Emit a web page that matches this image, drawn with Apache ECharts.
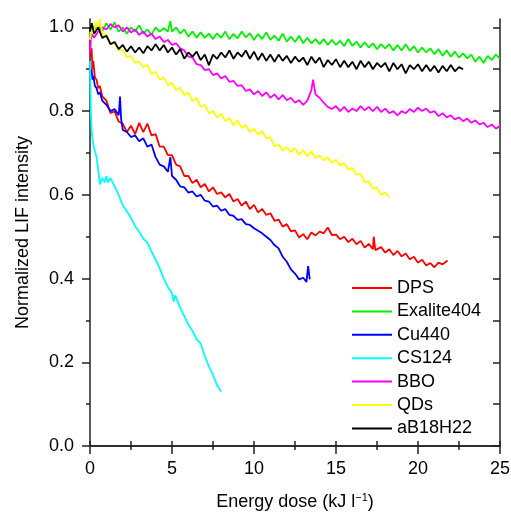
<!DOCTYPE html>
<html><head><meta charset="utf-8">
<script src="https://cdn.jsdelivr.net/npm/echarts@6/dist/echarts.min.js"></script>
<style>html,body{margin:0;padding:0;background:#fff}#c{width:511px;height:512px}</style>
</head><body><div id="c"></div>
<script>
const seriesNames = ['DPS','Exalite404','Cu440','CS124','BBO','QDs','aB18H22'];
const seriesColors = ['#ff0000','#00f000','#0000ff','#00ffff','#ff00ff','#ffff00','#000000'];
const xTicks = [0,5,10,15,20,25];
const yMajorTicks = [0,0.2,0.4,0.6,0.8,1.0];
const yMinorTicks = [0.1,0.3,0.5,0.7,0.9];
const yRightTicks = [0,0.1,0.2,0.3,0.4,0.5,0.6,0.7,0.8,0.9,1.0];

const dps = [[0,.97],[.05,.93],[.1,.95],[.15,.90],[.2,.92],[.3,.88],[.4,.875],[.5,.855],[.6,.86],[.75,.835],[1,.825],[1.25,.795],[1.5,.80],[1.75,.775],[2,.77],[2.25,.75],[2.5,.765],[2.75,.745],[3,.772],[3.25,.75],[3.5,.77],[3.75,.742],[4,.745],[4.25,.715],[4.5,.715],[4.75,.695],[5,.695],[5.25,.672],[5.5,.668],[5.75,.645],[6,.645],[6.25,.628],[6.5,.636],[6.75,.618],[7,.626],[7.25,.608],[7.5,.618],[7.75,.602],[8,.606],[8.25,.594],[8.5,.602],[8.75,.584],[9,.59],[9.25,.574],[9.5,.584],[9.75,.566],[10,.576],[10.25,.558],[10.5,.566],[10.75,.552],[11,.556],[11.25,.538],[11.5,.541],[11.75,.524],[12,.53],[12.25,.513],[12.5,.515],[12.75,.498],[13,.506],[13.25,.494],[13.5,.51],[13.75,.503],[14,.512],[14.25,.508],[14.5,.522],[14.75,.504],[15,.505],[15.25,.494],[15.5,.50],[15.75,.487],[16,.495],[16.25,.482],[16.5,.49],[16.75,.474],[17,.483],[17.25,.47],[17.3,.50],[17.4,.468],[17.75,.475],[18,.462],[18.25,.47],[18.5,.456],[18.75,.466],[19,.453],[19.25,.46],[19.5,.446],[19.75,.452],[20,.438],[20.25,.445],[20.5,.431],[20.75,.437],[21,.427],[21.25,.438],[21.5,.434],[21.8,.443]];
const exalite = [[0,.98],[.1,1.01],[.25,.995],[.5,1.005],[.75,.99],[1,1.01],[1.25,.995],[1.5,1.012],[1.75,.99],[2,1.0],[2.25,.985],[2.5,1.0],[2.75,.99],[3,1.005],[3.25,.985],[3.5,.995],[3.75,.982],[4,1.0],[4.25,.99],[4.5,.998],[4.75,.99],[4.9,1.015],[5,.99],[5.25,1.0],[5.5,.985],[5.75,.995],[6,.978],[6.25,.99],[6.5,.975],[6.75,.988],[7,.975],[7.25,.985],[7.5,.972],[7.75,.986],[8,.975],[8.25,.99],[8.5,.972],[8.75,.984],[9,.974],[9.25,.99],[9.5,.976],[9.75,.986],[10,.97],[10.25,.984],[10.5,.972],[10.75,.988],[11,.97],[11.25,.98],[11.5,.968],[11.75,.985],[12,.966],[12.25,.978],[12.5,.965],[12.75,.98],[13,.962],[13.25,.975],[13.5,.962],[13.75,.972],[14,.96],[14.25,.972],[14.5,.958],[14.75,.97],[15,.958],[15.25,.968],[15.5,.955],[15.75,.972],[16,.956],[16.25,.966],[16.5,.952],[16.75,.964],[17,.952],[17.25,.962],[17.5,.948],[17.75,.96],[18,.95],[18.25,.96],[18.5,.945],[18.75,.958],[19,.945],[19.25,.96],[19.5,.944],[19.75,.955],[20,.94],[20.25,.952],[20.5,.94],[20.75,.95],[21,.936],[21.25,.948],[21.5,.932],[21.75,.945],[22,.93],[22.25,.942],[22.5,.928],[22.75,.938],[23,.926],[23.25,.935],[23.5,.918],[23.75,.93],[24,.915],[24.25,.932],[24.5,.922],[24.75,.935],[25,.925]];
const cu440 = [[0,.92],[.05,.89],[.1,.90],[.15,.875],[.2,.885],[.3,.86],[.4,.855],[.5,.84],[.6,.845],[.75,.825],[1,.815],[1.25,.80],[1.5,.805],[1.75,.79],[1.83,.835],[1.9,.78],[2,.755],[2.25,.75],[2.5,.738],[2.75,.742],[3,.728],[3.25,.735],[3.5,.715],[3.75,.72],[4,.69],[4.25,.672],[4.5,.668],[4.75,.655],[4.9,.69],[5,.645],[5.25,.636],[5.5,.62],[5.75,.618],[6,.605],[6.25,.608],[6.5,.596],[6.75,.60],[7,.586],[7.25,.584],[7.5,.572],[7.75,.574],[8,.562],[8.25,.566],[8.5,.552],[8.75,.55],[9,.54],[9.25,.542],[9.5,.53],[9.75,.528],[10,.52],[10.25,.514],[10.5,.508],[10.75,.50],[11,.492],[11.25,.48],[11.5,.472],[11.75,.452],[12,.44],[12.25,.422],[12.5,.412],[12.75,.398],[13,.402],[13.2,.392],[13.3,.43],[13.4,.398]];
const cs124 = [[0,.92],[.03,.85],[.06,.79],[.1,.755],[.15,.735],[.2,.72],[.3,.705],[.4,.69],[.5,.66],[.6,.625],[.75,.64],[.9,.63],[1,.645],[1.1,.63],[1.25,.64],[1.5,.62],[1.75,.6],[2,.575],[2.25,.56],[2.5,.545],[2.75,.525],[3,.512],[3.25,.495],[3.5,.486],[3.75,.465],[4,.445],[4.25,.425],[4.5,.40],[4.75,.38],[5,.365],[5.1,.345],[5.2,.36],[5.5,.33],[5.75,.31],[6,.29],[6.25,.275],[6.5,.255],[6.75,.245],[7,.215],[7.25,.19],[7.5,.17],[7.75,.145],[8,.13]];
const bbo = [[0,.94],[.05,.97],[.1,.985],[.25,.975],[.5,.99],[.75,1.0],[1,.995],[1.25,1.008],[1.5,1.0],[1.75,1.005],[2,.99],[2.25,1.0],[2.5,.988],[2.75,.995],[3,.982],[3.25,.99],[3.5,.978],[3.75,.985],[4,.972],[4.25,.978],[4.5,.965],[4.75,.97],[5,.958],[5.25,.962],[5.5,.95],[5.75,.945],[6,.93],[6.25,.928],[6.5,.912],[6.75,.91],[7,.898],[7.25,.9],[7.5,.886],[7.75,.89],[8,.878],[8.25,.884],[8.5,.87],[8.75,.872],[9,.86],[9.25,.862],[9.5,.848],[9.75,.852],[10,.84],[10.25,.848],[10.5,.836],[10.75,.845],[11,.832],[11.25,.84],[11.5,.828],[11.75,.838],[12,.826],[12.25,.832],[12.5,.82],[12.75,.826],[13,.815],[13.25,.825],[13.5,.85],[13.6,.875],[13.75,.84],[14,.832],[14.25,.82],[14.5,.81],[14.75,.805],[15,.812],[15.25,.8],[15.5,.81],[15.75,.798],[16,.806],[16.25,.8],[16.5,.812],[16.75,.802],[17,.81],[17.25,.8],[17.5,.81],[17.75,.798],[18,.806],[18.25,.795],[18.5,.8],[18.75,.79],[19,.8],[19.25,.795],[19.5,.805],[19.75,.798],[20,.808],[20.25,.8],[20.5,.806],[20.75,.796],[21,.8],[21.25,.788],[21.5,.795],[21.75,.785],[22,.79],[22.25,.78],[22.5,.785],[22.75,.776],[23,.782],[23.25,.772],[23.5,.778],[23.75,.768],[24,.772],[24.25,.762],[24.5,.768],[24.75,.758],[25,.765]];
const qds = [[0,.97],[.1,1.0],[.2,.985],[.35,1.012],[.5,.995],[.6,1.02],[.75,.985],[1,.982],[1.25,.96],[1.5,.962],[1.75,.945],[2,.945],[2.25,.928],[2.5,.932],[2.75,.915],[3,.918],[3.25,.905],[3.5,.91],[3.75,.888],[4,.894],[4.25,.875],[4.5,.88],[4.75,.862],[5,.868],[5.25,.85],[5.5,.856],[5.75,.838],[6,.845],[6.25,.824],[6.5,.832],[6.75,.81],[7,.815],[7.25,.795],[7.5,.8],[7.75,.785],[8,.794],[8.25,.776],[8.5,.784],[8.75,.766],[9,.778],[9.25,.76],[9.5,.767],[9.75,.75],[10,.758],[10.25,.744],[10.5,.752],[10.75,.735],[11,.738],[11.25,.716],[11.5,.72],[11.75,.706],[12,.714],[12.25,.702],[12.5,.712],[12.75,.695],[13,.707],[13.25,.692],[13.5,.704],[13.75,.688],[14,.694],[14.25,.682],[14.5,.69],[14.75,.676],[15,.684],[15.25,.67],[15.5,.676],[15.75,.66],[16,.664],[16.25,.648],[16.5,.65],[16.75,.63],[17,.632],[17.25,.615],[17.5,.617],[17.75,.6],[18,.605],[18.25,.595]];
const ab18h22 = [[0,.99],[.1,1.01],[.25,.985],[.5,1.0],[.75,.975],[1,.98],[1.25,.96],[1.5,.965],[1.75,.948],[2,.958],[2.25,.942],[2.5,.955],[2.75,.94],[3,.952],[3.25,.938],[3.5,.955],[3.75,.945],[4,.96],[4.25,.945],[4.5,.958],[4.75,.94],[5,.952],[5.25,.935],[5.5,.948],[5.75,.925],[6,.94],[6.25,.93],[6.5,.942],[6.75,.922],[7,.935],[7.25,.91],[7.5,.935],[7.75,.925],[8,.94],[8.25,.928],[8.5,.945],[8.75,.925],[9,.94],[9.25,.93],[9.5,.945],[9.75,.925],[10,.942],[10.25,.922],[10.5,.938],[10.75,.92],[11,.935],[11.25,.918],[11.5,.935],[11.75,.92],[12,.932],[12.25,.915],[12.5,.93],[12.75,.918],[13,.928],[13.25,.91],[13.5,.93],[13.75,.915],[14,.928],[14.25,.905],[14.5,.922],[14.75,.91],[15,.924],[15.25,.905],[15.5,.92],[15.75,.905],[16,.918],[16.25,.9],[16.5,.92],[16.75,.905],[17,.918],[17.25,.9],[17.5,.915],[17.75,.905],[18,.915],[18.25,.895],[18.5,.915],[18.75,.9],[19,.912],[19.25,.89],[19.5,.91],[19.75,.9],[20,.912],[20.25,.895],[20.5,.91],[20.75,.895],[21,.908],[21.25,.892],[21.5,.908],[21.75,.895],[22,.91],[22.25,.895],[22.5,.905],[22.75,.9]];

const allData = [dps, exalite, cu440, cs124, bbo, qds, ab18h22];
const FONT = 'Liberation Sans';
const axisCol = '#222';

const chart = echarts.init(document.getElementById('c'));
chart.setOption({
  animation: false,
  backgroundColor: '#fff',
  textStyle: {fontFamily: FONT},
  grid: {left: 90, right: 11, top: 19, bottom: 66, containLabel: false, outerBoundsMode: 'none'},
  legend: {
    orient: 'vertical', left: 347, top: 274,
    icon: 'rect', itemWidth: 40, itemHeight: 2, itemGap: 5.4,
    textStyle: {fontFamily: FONT, fontSize: 18, color: '#000', lineHeight: 18, padding: [0,0,0,0]},
    data: seriesNames
  },
  xAxis: [
    {type: 'value', position: 'bottom', min: 0, max: 25, interval: 5,
     name: 'Energy dose (kJ l{sup|\u22121})', nameLocation: 'middle', nameGap: 46,
     nameTextStyle: {fontSize: 18, color: '#000', fontFamily: FONT,
       rich: {sup: {fontSize: 11, fontFamily: FONT, color: '#000', padding: [0,0,9,0]}}},
     axisLine: {lineStyle: {color: axisCol, width: 1.5}},
     axisTick: {show: true, inside: false, length: 8, lineStyle: {color: axisCol, width: 1.5}},
     minorTick: {show: true, splitNumber: 2, length: 4, lineStyle: {color: axisCol, width: 1.5}},
     axisLabel: {fontSize: 18, color: '#000', margin: 14, fontFamily: FONT},
     splitLine: {show: false}},
    {type: 'value', position: 'top', min: 0, max: 25, interval: 2.5,
     axisLine: {lineStyle: {color: axisCol, width: 1.5}},
     axisTick: {show: true, inside: false, length: 5, lineStyle: {color: axisCol, width: 1.5}},
     axisLabel: {show: false}, splitLine: {show: false}}
  ],
  yAxis: [
    {type: 'value', position: 'left', min: 0, max: 1.02,
     name: 'Normalized LIF intensity', nameLocation: 'middle', nameGap: 58,
     nameTextStyle: {fontSize: 18, color: '#000', fontFamily: FONT},
     axisLine: {show: true, lineStyle: {color: axisCol, width: 1.5}},
     axisTick: {show: true, inside: false, length: 8, customValues: yMajorTicks, lineStyle: {color: axisCol, width: 1.5}},
     axisLabel: {fontSize: 18, color: '#000', margin: 16, fontFamily: FONT, customValues: yMajorTicks,
       formatter: v => v.toFixed(1)},
     splitLine: {show: false}},
    {type: 'value', position: 'left', min: 0, max: 1.02,
     axisLine: {show: false},
     axisTick: {show: true, inside: false, length: 4, customValues: yMinorTicks, lineStyle: {color: axisCol, width: 1.5}},
     axisLabel: {show: false}, splitLine: {show: false}},
    {type: 'value', position: 'right', min: 0, max: 1.02,
     axisLine: {show: true, lineStyle: {color: axisCol, width: 1.5}},
     axisTick: {show: true, inside: true, length: 7, customValues: yRightTicks, lineStyle: {color: axisCol, width: 1.5}},
     axisLabel: {show: false}, splitLine: {show: false}}
  ],
  series: seriesNames.map((n, i) => ({
    name: n, type: 'line', xAxisIndex: 0, yAxisIndex: 0,
    data: allData[i], showSymbol: false, symbol: 'none',
    lineStyle: {color: seriesColors[i], width: 1.8},
    itemStyle: {color: seriesColors[i]},
    z: 2 + i
  }))
});
</script></body></html>
